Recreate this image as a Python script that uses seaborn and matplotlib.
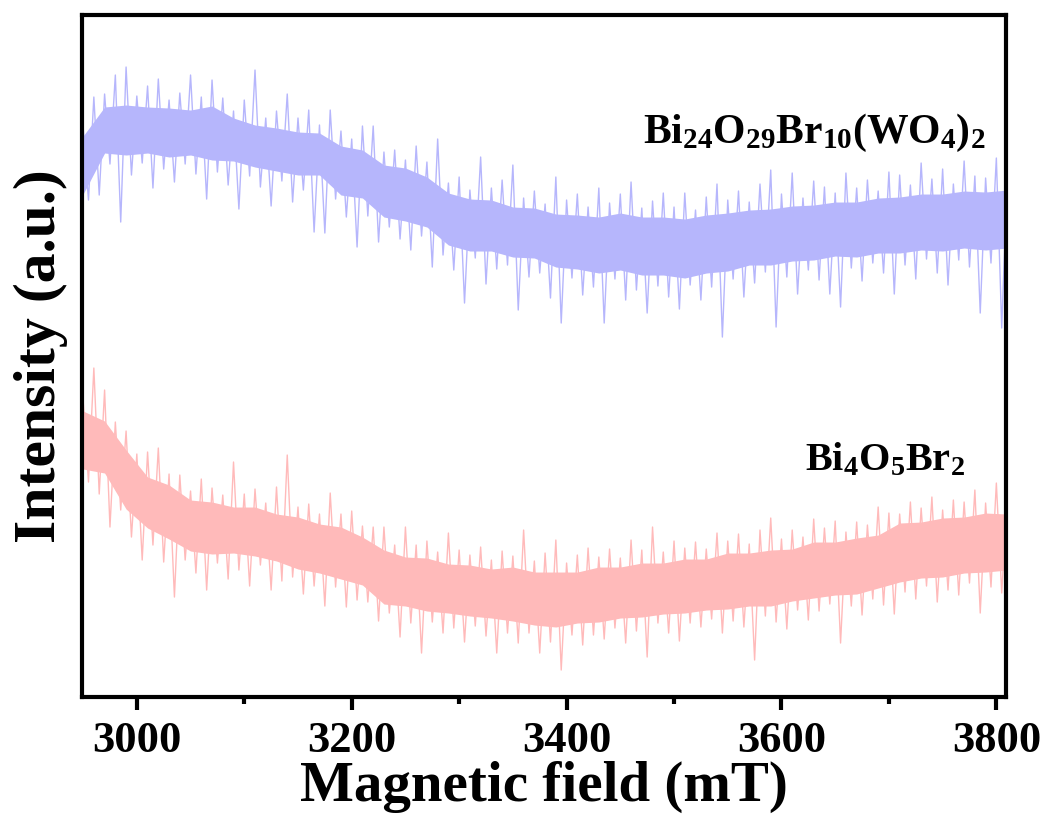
import numpy as np
import pandas as pd
import matplotlib
matplotlib.use("Agg")
import matplotlib.pyplot as plt
import seaborn as sns

sns.set_theme(style="ticks")
plt.rcParams["font.family"] = ["Liberation Serif", "DejaVu Serif"]
plt.rcParams["font.weight"] = "bold"
plt.rcParams["text.color"] = "black"
plt.rcParams["axes.labelcolor"] = "black"
plt.rcParams["xtick.color"] = "black"
plt.rcParams["mathtext.fontset"] = "custom"
plt.rcParams["mathtext.rm"] = "Liberation Serif:bold"
plt.rcParams["mathtext.bf"] = "Liberation Serif:bold"
plt.rcParams["mathtext.it"] = "Liberation Serif:bold"
plt.rcParams["mathtext.default"] = "bf"

# field grids (mT)
core_field = np.arange(2950, 3811, 20)
peak_field = np.arange(2950, 3811, 10)

# Bi24O29Br10(WO4)2 : dense band core and noise extremes (a.u.)
blue_core_hi = [561, 590, 592, 590, 589, 587, 591, 579, 572, 569, 565, 564, 551, 547, 532,
                529, 520, 504, 498, 497, 490, 489, 483, 482, 480, 484, 480, 480, 478, 482,
                484, 487, 488, 491, 492, 495, 495, 499, 500, 503, 503, 506, 505, 507]
blue_core_lo = [503, 544, 542, 544, 540, 542, 537, 536, 530, 526, 522, 522, 502, 499, 480,
                476, 470, 452, 446, 446, 440, 439, 430, 428, 424, 427, 422, 422, 419, 424,
                426, 432, 432, 436, 437, 441, 440, 444, 444, 447, 446, 449, 447, 449]
blue_peak_hi = [570, 600, 603, 622, 630, 601, 611, 618, 597, 604, 622, 600, 617, 599, 586,
                597, 627, 579, 586, 603, 579, 587, 572, 587, 566, 558, 571, 571, 545, 547,
                537, 551, 535, 558, 514, 520, 507, 540, 509, 517, 532, 499, 506, 493, 520,
                497, 503, 490, 509, 494, 503, 515, 489, 496, 504, 490, 504, 487, 500, 513,
                497, 506, 495, 513, 527, 503, 524, 499, 516, 510, 504, 524, 509, 517, 506,
                525, 522, 512, 534, 518, 528, 513, 536, 521, 519, 539, 516]
blue_peak_lo = [497, 502, 533, 475, 522, 534, 509, 528, 515, 533, 523, 498, 525, 512, 488,
                521, 510, 491, 516, 495, 507, 465, 464, 498, 480, 450, 481, 455, 470, 458,
                447, 461, 430, 442, 427, 394, 439, 413, 428, 432, 387, 420, 424, 399, 374,
                419, 402, 410, 374, 418, 397, 407, 384, 411, 400, 388, 412, 397, 410, 360,
                418, 400, 414, 425, 370, 420, 403, 427, 417, 403, 390, 429, 416, 434, 424,
                403, 432, 418, 438, 424, 412, 437, 430, 384, 434, 369, 432]

# Bi4O5Br2
red_core_hi = [286, 276, 247, 220, 212, 197, 195, 190, 190, 183, 180, 173, 170, 160, 147,
               140, 139, 133, 132, 128, 130, 125, 125, 125, 130, 130, 134, 134, 138, 138,
               144, 144, 147, 148, 155, 155, 159, 162, 174, 175, 179, 180, 184, 183]
red_core_lo = [228, 224, 188, 169, 158, 146, 143, 144, 141, 136, 128, 124, 118, 112, 93,
               91, 86, 84, 81, 79, 76, 72, 70, 74, 75, 79, 80, 83, 84, 87,
               88, 91, 91, 96, 99, 102, 103, 109, 115, 119, 120, 124, 125, 127]
red_peak_hi = [297, 329, 307, 275, 266, 243, 245, 249, 223, 222, 206, 218, 209, 202, 235,
               203, 208, 194, 210, 242, 190, 193, 183, 204, 183, 186, 171, 170, 170, 152,
               170, 152, 156, 145, 164, 147, 142, 150, 137, 146, 141, 167, 136, 144, 157,
               134, 142, 149, 140, 148, 139, 157, 147, 170, 145, 156, 149, 155, 148, 164,
               156, 163, 153, 167, 179, 158, 167, 160, 178, 169, 176, 165, 175, 172, 190,
               184, 183, 195, 189, 200, 187, 197, 195, 207, 194, 214, 196]
red_peak_lo = [215, 203, 170, 187, 160, 137, 152, 135, 100, 137, 124, 107, 134, 118, 127,
               111, 132, 107, 116, 120, 103, 111, 91, 110, 90, 97, 95, 76, 84, 60,
               74, 44, 75, 64, 69, 55, 71, 61, 44, 64, 54, 64, 44, 55, 27,
               62, 52, 62, 58, 69, 54, 66, 40, 74, 64, 56, 74, 70, 78, 64,
               76, 70, 37, 81, 75, 68, 87, 77, 86, 93, 54, 91, 82, 98, 92,
               83, 105, 98, 111, 95, 107, 102, 114, 84, 110, 104, 117]

blue = "#b6b6fc"
red = "#ffbaba"


def trace(hi, lo):
    x = np.column_stack([peak_field, peak_field + 5]).ravel()
    y = np.column_stack([hi, lo]).ravel()
    return pd.DataFrame({"field": x, "intensity": y})


fig = plt.figure(figsize=(10.45, 8.21), dpi=100)
ax = fig.add_axes([0.0785, 0.151, 0.8842, 0.8307])

for core_hi, core_lo, pk_hi, pk_lo, c in [
        (blue_core_hi, blue_core_lo, blue_peak_hi, blue_peak_lo, blue),
        (red_core_hi, red_core_lo, red_peak_hi, red_peak_lo, red)]:
    ax.fill_between(core_field, core_lo, core_hi, color=c, lw=0)
    sns.lineplot(data=trace(pk_hi, pk_lo), x="field", y="intensity",
                 color=c, lw=1.0, ax=ax, sort=False)

ax.text(3471, 554, r"$Bi_{24}O_{29}Br_{10}(WO_4)_2$", fontsize=30, va="baseline")
ax.text(3622, 227, r"$Bi_4O_5Br_2$", fontsize=29, va="baseline")

ax.set_xlim(2949, 3809)
ax.set_ylim(0, 682)
ax.set_xticks([3000, 3200, 3400, 3600, 3800])
ax.set_xticks([3100, 3300, 3500, 3700], minor=True)
ax.set_yticks([])
ax.tick_params(axis="x", which="major", length=9, width=3, labelsize=32, pad=8,
               direction="out")
ax.tick_params(axis="x", which="minor", length=5, width=3, direction="out")
for s in ax.spines.values():
    s.set_linewidth(3)
    s.set_color("black")

ax.set_xlabel("Magnetic field (mT)", fontsize=41, fontweight="bold", labelpad=0)
ax.set_ylabel("Intensity (a.u.)", fontsize=43, fontweight="bold", labelpad=10)

fig.savefig("out.png", dpi=100)
